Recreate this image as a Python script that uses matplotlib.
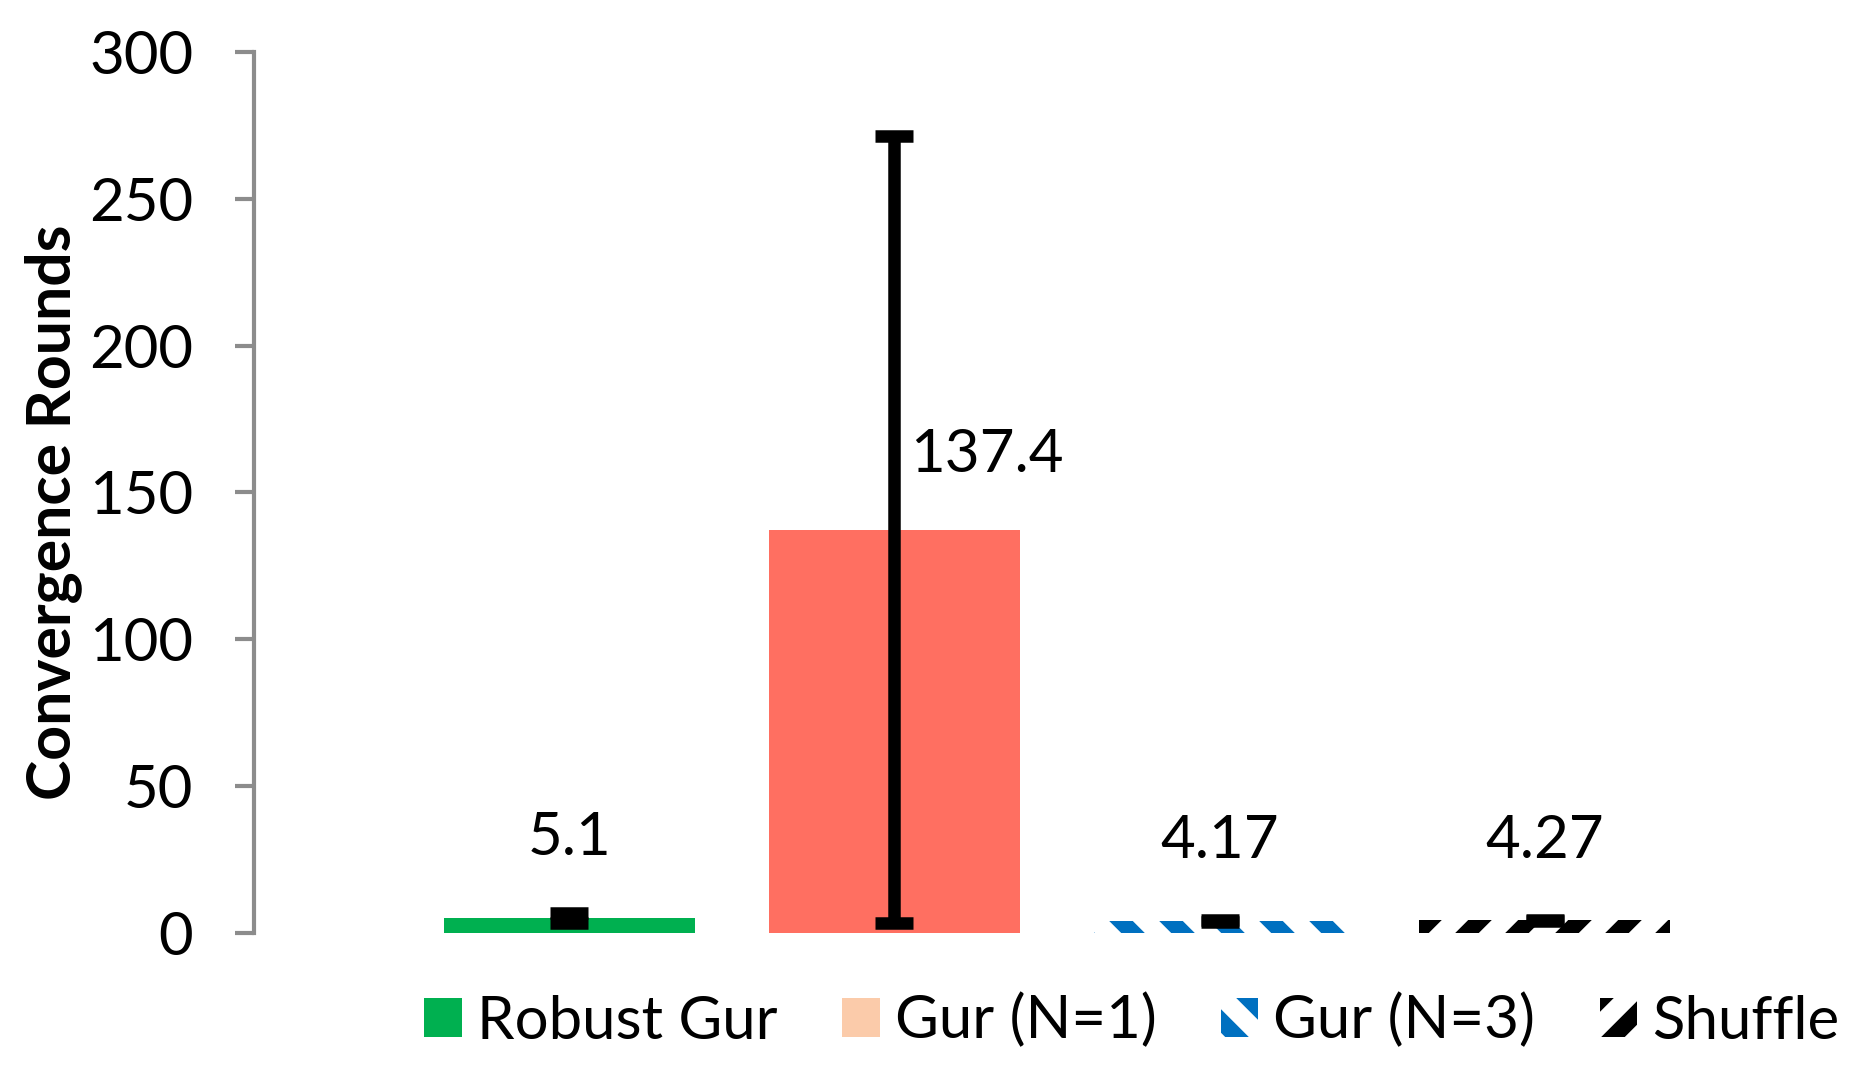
import matplotlib
matplotlib.use("Agg")
import matplotlib.pyplot as plt
from matplotlib.patches import Patch

# ---------------- DATA ---------------- #
names = ["Robust Gur", "Gur (N=1)", "Gur (N=3)", "Shuffle"]
values = [5.1, 137.4, 4.17, 4.27]
errors = [1.7, 134.0, 0.3, 0.3]
value_text = ["5.1", "137.4", "4.17", "4.27"]
yticks = [0, 50, 100, 150, 200, 250, 300]

# ---------------- STYLE ---------------- #
bar_colors = ["#00B050", "#FF6F61", "white", "white"]
legend_colors = ["#00B050", "#FBCBAA", "white", "white"]
hatch_colors = ["#00B050", "#FF6F61", "#0070C0", "black"]
hatches = [None, None, "\\\\", "//"]
label_offsets = [(0, 12.7, "center"), (3.8, 18, "left"), (0, 12.7, "center"), (0, 12.7, "center")]

plt.rcParams["font.family"] = ["Lato", "DejaVu Sans"]
plt.rcParams["hatch.linewidth"] = 4.0

fig = plt.figure(figsize=(1871 / 300, 1078 / 300), dpi=300)
ax = fig.add_axes([254 / 1871, 1 - 933 / 1078, (1860 - 254) / 1871, (933 - 52) / 1078])

x = list(range(len(names)))
for i in x:
    ax.bar(i, values[i], width=0.77, color=bar_colors[i], edgecolor=hatch_colors[i],
           linewidth=0, hatch=hatches[i], zorder=2)

ax.errorbar(x, values, yerr=errors, fmt="none", ecolor="black", elinewidth=3.0,
            capsize=4.6, capthick=3.0, zorder=3)

# ---------------- LABELS ---------------- #
for i in x:
    dx, dy, ha = label_offsets[i]
    va = "bottom" if ha == "center" else "center"
    ax.annotate(value_text[i], (i, values[i]), xytext=(dx, dy), textcoords="offset points",
                ha=ha, va=va, fontsize=14.4, color="black")

ax.set_xlim(-0.97, 3.97)
ax.set_ylim(0, 300)
ax.set_yticks(yticks)
ax.set_xticks([])
for s in ["top", "right", "bottom"]:
    ax.spines[s].set_visible(False)
ax.spines["left"].set_color("#8C8C8C")
ax.spines["left"].set_linewidth(1.0)
ax.tick_params(axis="y", colors="#8C8C8C", labelcolor="black", length=4.6, width=1.0,
               pad=10, labelsize=14.4)

ax.set_ylabel("Convergence Rounds", fontsize=14.6, fontweight="bold")
ax.yaxis.set_label_coords(-0.107, 0.478)

handles = [Patch(facecolor=legend_colors[i], edgecolor=hatch_colors[i], linewidth=0,
                 hatch=hatches[i], label=names[i]) for i in x]
fig.legend(handles=handles, loc="center", bbox_to_anchor=(0.605, 0.053), ncol=4,
           frameon=False, fontsize=14.4, handlelength=0.63, handleheight=0.63,
           handletextpad=0.25, columnspacing=1.07)

fig.savefig("out.png", dpi=300, facecolor="white")
